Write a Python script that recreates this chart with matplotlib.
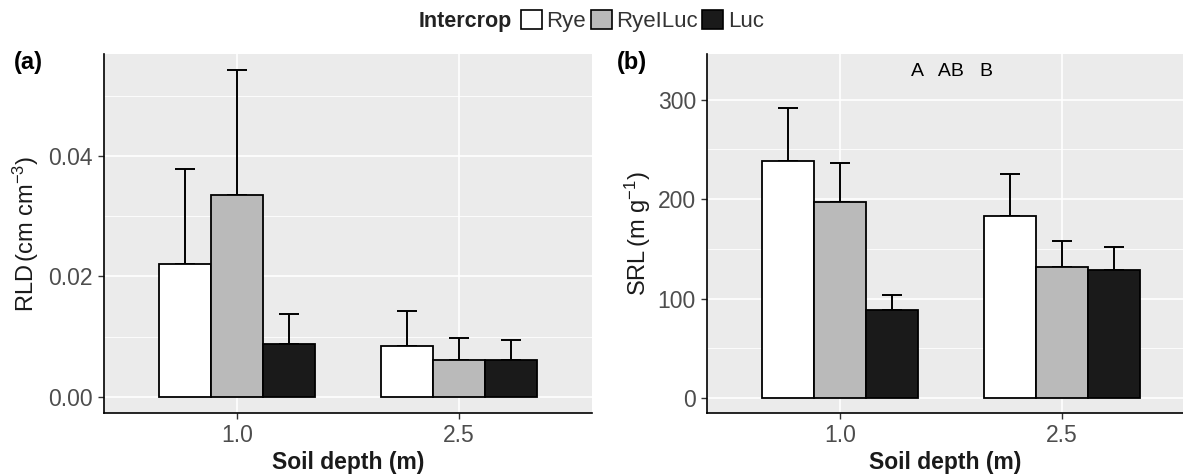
import numpy as np
import matplotlib
matplotlib.use("Agg")
import matplotlib.pyplot as plt
from matplotlib.patches import Patch
from matplotlib.ticker import MultipleLocator

plt.rcParams['font.family'] = ['Liberation Sans', 'DejaVu Sans']
plt.rcParams['mathtext.fontset'] = 'custom'
plt.rcParams['mathtext.rm'] = 'Liberation Sans'
plt.rcParams['mathtext.it'] = 'Liberation Sans:italic'

# data
depths = ['1.0', '2.5']
crops = ['Rye', 'RyeILuc', 'Luc']
crop_colors = ['white', '#bababa', '#1a1a1a']

rld_mean = {'Rye': [0.0221, 0.0084], 'RyeILuc': [0.0335, 0.0061], 'Luc': [0.0088, 0.0061]}
rld_upper = {'Rye': [0.0378, 0.0143], 'RyeILuc': [0.0542, 0.0098], 'Luc': [0.0138, 0.0094]}

srl_mean = {'Rye': [238, 183], 'RyeILuc': [197, 132], 'Luc': [89, 129]}
srl_upper = {'Rye': [292, 225], 'RyeILuc': [236, 158], 'Luc': [104, 152]}

letters = 'A   AB   B'

W, H = 1183, 474
fig = plt.figure(figsize=(W / 100, H / 100), dpi=100)

bar_w = 0.7 / 3
x = np.arange(1, len(depths) + 1)


def draw_panel(ax, means, uppers):
    ax.set_facecolor('#ebebeb')
    for i, c in enumerate(crops):
        pos = x + (i - 1) * bar_w
        m = np.array(means[c])
        u = np.array(uppers[c])
        ax.errorbar(pos, m, yerr=[np.zeros_like(m), u - m], fmt='none',
                    ecolor='black', elinewidth=1.4, capsize=7.5, capthick=1.4, zorder=2)
        ax.bar(pos, m, width=bar_w, color=crop_colors[i], edgecolor='black',
               linewidth=1.3, zorder=3)
    ax.set_xticks(x)
    ax.set_xticklabels(depths)
    ax.grid(True, which='major', color='white', linewidth=1.2, zorder=0)
    ax.grid(True, which='minor', axis='y', color='white', linewidth=0.6, zorder=0)
    ax.set_axisbelow(True)
    for s in ['top', 'right']:
        ax.spines[s].set_visible(False)
    for s in ['left', 'bottom']:
        ax.spines[s].set_color('black')
        ax.spines[s].set_linewidth(1.2)
    ax.tick_params(axis='both', which='major', length=4, width=1, color='#333333',
                   labelsize=16.5, labelcolor='#4d4d4d', pad=4)
    ax.tick_params(which='minor', length=0)
    ax.set_xlabel('Soil depth (m)', fontsize=16.5, fontweight='bold', labelpad=3,
                  color='#1a1a1a')


# panel (a)
ax1 = fig.add_axes([104 / W, 1 - 413 / H, (592 - 104) / W, (413 - 54) / H])
draw_panel(ax1, rld_mean, rld_upper)
ax1.set_xlim(0.4, 2.6)
ax1.set_ylim(-0.0027, 0.0569)
ax1.yaxis.set_major_locator(MultipleLocator(0.02))
ax1.yaxis.set_minor_locator(MultipleLocator(0.01))
ax1.set_yticks([0, 0.02, 0.04])
ax1.set_yticklabels(['0.00', '0.02', '0.04'])
ax1.set_ylabel(r'RLD$\,(\mathrm{cm\ cm}^{-3})$', fontsize=17, labelpad=5, color='#1a1a1a')
fig.text(14 / W, 1 - 62 / H, '(a)', fontsize=17, fontweight='bold', va='center')

# panel (b)
ax2 = fig.add_axes([707 / W, 1 - 413 / H, (W - 707) / W, (413 - 54) / H])
draw_panel(ax2, srl_mean, srl_upper)
ax2.set_xlim(0.4, 2.545)
ax2.set_ylim(-15, 346)
ax2.yaxis.set_major_locator(MultipleLocator(100))
ax2.yaxis.set_minor_locator(MultipleLocator(50))
ax2.set_ylabel(r'SRL$\,(\mathrm{m\ g}^{-1})$', fontsize=17, labelpad=3, color='#1a1a1a')
ax2.text(1.505, 328, letters, ha='center', va='center', fontsize=14)
fig.text(617 / W, 1 - 62 / H, '(b)', fontsize=17, fontweight='bold', va='center')

# legend on top
handles = [Patch(facecolor=crop_colors[i], edgecolor='black', linewidth=1.2, label=c)
           for i, c in enumerate(crops)]
fig.text(512 / W, 1 - 21 / H, 'Intercrop', fontsize=15.5, fontweight='bold',
         ha='right', va='center', color='#222222')
fig.legend(handles=handles, loc='center left', bbox_to_anchor=(521 / W, 1 - 21 / H),
           ncol=3, frameon=False, fontsize=16, handlelength=0.95, handleheight=0.95,
           handletextpad=0.2, columnspacing=0.2, borderpad=0, borderaxespad=0,
           labelcolor='#333333')

fig.savefig('out.png', dpi=100)
